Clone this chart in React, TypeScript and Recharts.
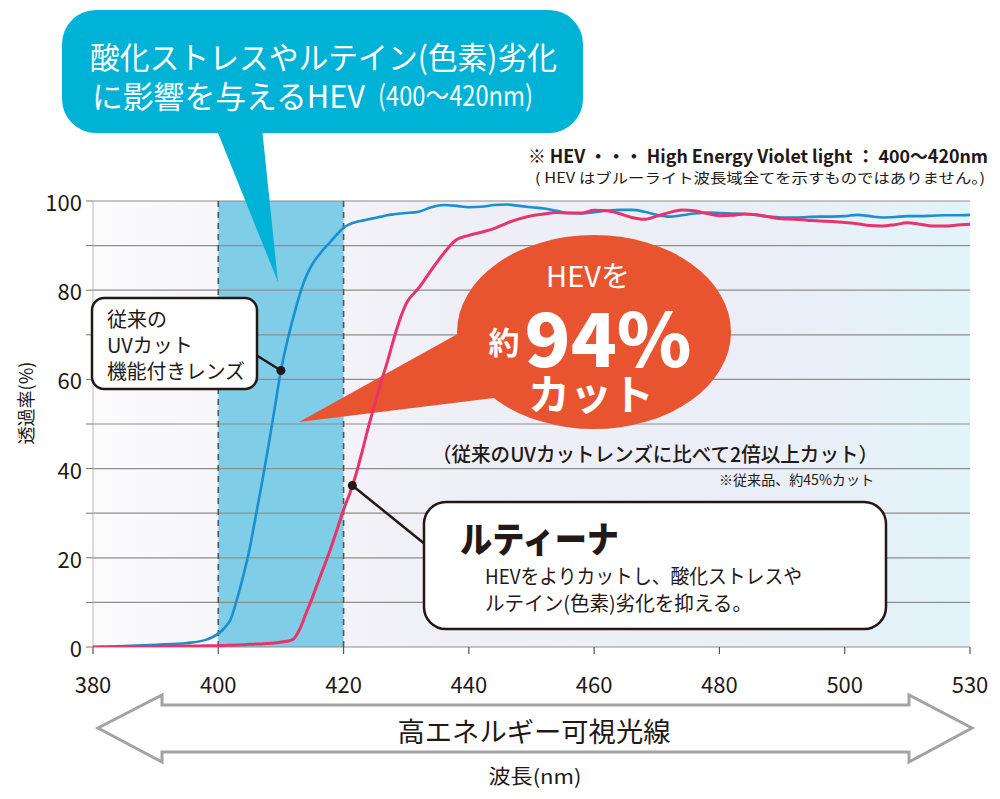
import React from "react";
import {
  ComposedChart,
  Line,
  XAxis,
  YAxis,
  CartesianGrid,
  ReferenceArea,
  ReferenceLine,
  ReferenceDot,
} from "recharts";

// wavelength (nm) and transmittance (%)
const wavelengths = [
  380, 385, 390, 395, 398,
  400, 401, 402, 403, 404, 405, 406, 407, 408, 409,
  410, 411, 412, 413, 414, 415, 416, 417, 418, 419,
  420, 421, 422, 423, 424, 425, 426, 427, 428, 429,
  430,
  432, 434, 436, 438, 440, 442, 444, 446, 448, 450,
  452, 454, 456, 458, 460, 462, 464, 466, 468, 470,
  472, 474, 476, 478, 480, 482, 484, 486, 488, 490,
  492, 494, 496, 498, 500, 502, 504, 506, 508, 510,
  512, 514, 516, 518, 520,
];

const conventional = [
  0, 0.2, 0.5, 0.9, 1.6,
  3, 4.3, 6.3, 10.8, 16, 22, 29.5, 37, 45, 53.5,
  62, 68.5, 74, 79, 83, 85.8, 87.8, 89.5, 91, 92.6,
  94, 94.8, 95.3, 95.6, 95.9, 96.2, 96.5, 96.8, 97, 97.2,
  97.3,
  97.6, 98.6, 99.1, 98.9, 98.6, 98.7, 99.1, 99.2, 98.9, 98.6,
  98.3, 97.8, 97.3, 97.2, 97.5, 97.8, 98, 98, 97.6, 96.9,
  96.5, 96.8, 97.2, 97.4, 97.3, 97.2, 97.1, 96.8, 96.5, 96.3,
  96.3, 96.4, 96.5, 96.5, 96.6, 96.9, 96.6, 96.3, 96.4, 96.6,
  96.6, 96.7, 96.8, 96.8, 96.9,
];

const rutina = [
  0, 0, 0.1, 0.2, 0.3,
  0.3, 0.35, 0.4, 0.45, 0.5, 0.6, 0.65, 0.7, 0.8, 0.9,
  1.1, 1.3, 1.8, 4, 7.5, 11, 14.8, 18.5, 22.3, 26.5,
  30.8, 34.5, 38.8, 44, 49.5, 54.5, 59.5, 64, 69, 73.5,
  77,
  80.5, 84.5, 88.3, 91.3, 92.3, 93, 93.8, 95, 96, 96.7,
  97.1, 97.4, 97.3, 97.3, 97.9, 97.8, 97.2, 96.3, 95.9, 96.6,
  97.4, 98, 97.8, 97.2, 96.7, 96.8, 97.1, 96.9, 96.4, 96,
  95.9, 95.7, 95.5, 95.4, 95.2, 94.9, 94.5, 94.4, 94.7, 95.1,
  94.8, 94.4, 94.4, 94.6, 94.8,
];

const xTicks = [380, 400, 420, 440, 460, 480, 500, 520];
const xTickLabels = ["380", "400", "420", "440", "460", "480", "500", "530"];
const yTicks = [0, 10, 20, 30, 40, 50, 60, 70, 80, 90, 100];
const hevBand = [400, 420];
const markerConventional = 410;
const markerRutina = 421.4;

const data = wavelengths.map((nm, i) => ({
  nm,
  conventional: conventional[i],
  rutina: rutina[i],
}));

function valueAt(series: number[], nm: number) {
  for (let i = 1; i < wavelengths.length; i++) {
    if (nm <= wavelengths[i]) {
      const t = (nm - wavelengths[i - 1]) / (wavelengths[i] - wavelengths[i - 1]);
      return series[i - 1] + t * (series[i] - series[i - 1]);
    }
  }
  return series[series.length - 1];
}

const W = 1000;
const H = 799;
const margin = { top: 201, right: 30, bottom: 102, left: 33 };
const PLOT = { l: 93, r: 970, t: 201, b: 647 };
const px = (nm: number) => PLOT.l + ((nm - 380) / 140) * (PLOT.r - PLOT.l);
const py = (v: number) => PLOT.b - (v / 100) * (PLOT.b - PLOT.t);

const FONT = '"Noto Sans CJK JP", "Noto Sans", sans-serif';
const INK = "#231815";

const XTick = (props: any) => {
  const i = xTicks.indexOf(props.payload.value);
  return (
    <text x={props.x} y={PLOT.b + 36} textAnchor="middle" dominantBaseline="central"
      fontSize={22} fill={INK} fontFamily={FONT}>
      {xTickLabels[i]}
    </text>
  );
};

const YTick = (props: any) => {
  if (props.payload.value % 20 !== 0) return <g />;
  return (
    <text x={PLOT.l - 11} y={props.y} textAnchor="end" dominantBaseline="central"
      fontSize={22} fill={INK} fontFamily={FONT}>
      {props.payload.value}
    </text>
  );
};

function axes(visible: boolean) {
  return [
    <XAxis key="x" dataKey="nm" type="number" domain={[380, 520]} ticks={xTicks}
      allowDataOverflow interval={0} height={50} axisLine={false} tickSize={7}
      tickLine={visible ? { stroke: "#555", strokeWidth: 1.2 } : false}
      tick={visible ? XTick : false} />,
    <YAxis key="y" type="number" domain={[0, 100]} ticks={yTicks} interval={0}
      allowDataOverflow width={60} tickSize={7}
      axisLine={visible ? { stroke: "#b8b8b8" } : false}
      tickLine={visible ? { stroke: "#777" } : false}
      tick={visible ? YTick : false} />,
  ];
}

const layer: React.CSSProperties = { position: "absolute", left: 0, top: 0 };

function Annotations() {
  const bx = px(markerConventional);
  const by = py(valueAt(conventional, markerConventional));
  const rx = px(markerRutina);
  const ry = py(valueAt(rutina, markerRutina));
  return (
    <svg width={W} height={H} style={layer} fontFamily={FONT}>
      {/* top cyan speech bubble */}
      <rect x={62} y={10} width={521} height={123} rx={34} fill="#00b2d6" />
      <polygon points="216,128 262,128 278,282" fill="#00b2d6" />
      <text x={90} y={55} dominantBaseline="central" fontSize={31} fill="#fff"
        textLength={467} lengthAdjust="spacingAndGlyphs">
        酸化ストレスやルテイン(色素)劣化
      </text>
      <text y={94} dominantBaseline="central" fill="#fff">
        <tspan x={92} fontSize={31} textLength={273} lengthAdjust="spacingAndGlyphs">に影響を与えるHEV</tspan>
        <tspan x={378} fontSize={28} textLength={155} lengthAdjust="spacingAndGlyphs">(400〜420nm)</tspan>
      </text>

      {/* note top right */}
      <text x={528} y={155} dominantBaseline="central" fontSize={18} fontWeight={700} fill={INK}
        textLength={460} lengthAdjust="spacingAndGlyphs">
        ※ HEV ・・・ High Energy Violet light ： 400〜420nm
      </text>
      <text x={535} y={177} dominantBaseline="central" fontSize={14} fill={INK}
        textLength={450} lengthAdjust="spacingAndGlyphs">
        ( HEV はブルーライト波長域全てを示すものではありません。)
      </text>

      {/* conventional lens label */}
      <line x1={256} y1={355} x2={bx} y2={by} stroke={INK} strokeWidth={2.5} />
      <rect x={92} y={298} width={165} height={91} rx={12} fill="#fff" stroke={INK} strokeWidth={2.5} />
      <text x={107} y={318} dominantBaseline="central" fontSize={20} fill={INK}>従来の</text>
      <text x={107} y={344} dominantBaseline="central" fontSize={20} fill={INK}>UVカット</text>
      <text x={107} y={370} dominantBaseline="central" fontSize={20} fill={INK}
        textLength={138} lengthAdjust="spacingAndGlyphs">機能付きレンズ</text>

      {/* orange bubble */}
      <polygon points="299,422 472,326 494,398" fill="#e85430" />
      <ellipse cx={594} cy={332} rx={137} ry={97} fill="#e85430" />
      <text x={588} y={274} textAnchor="middle" dominantBaseline="central" fontSize={29} fill="#fff">HEVを</text>
      <text x={504} y={340} textAnchor="middle" dominantBaseline="central" fontSize={31} fontWeight={700} fill="#fff">約</text>
      <text x={608} y={334} textAnchor="middle" dominantBaseline="central" fontSize={74} fontWeight={900} fill="#fff"
        textLength={167} lengthAdjust="spacingAndGlyphs">94%</text>
      <text x={591} y={391} textAnchor="middle" dominantBaseline="central" fontSize={42} fontWeight={700} fill="#fff">カット</text>

      <text x={432} y={453} dominantBaseline="central" fontSize={20} fontWeight={500} fill={INK}
        textLength={446} lengthAdjust="spacingAndGlyphs">
        （従来のUVカットレンズに比べて2倍以上カット）
      </text>
      <text x={719} y={479} dominantBaseline="central" fontSize={14} fill={INK}
        textLength={155} lengthAdjust="spacingAndGlyphs">
        ※従来品、約45%カット
      </text>

      {/* Rutina label */}
      <line x1={rx} y1={ry} x2={426} y2={545} stroke={INK} strokeWidth={2.5} />
      <rect x={424} y={502} width={462} height={127} rx={22} fill="#fff" stroke={INK} strokeWidth={2.5} />
      <text x={460} y={537} dominantBaseline="central" fontSize={36} fontWeight={900} fill={INK}
        textLength={159} lengthAdjust="spacingAndGlyphs">ルティーナ</text>
      <text x={485} y={575} dominantBaseline="central" fontSize={20} fill={INK}
        textLength={317} lengthAdjust="spacingAndGlyphs">HEVをよりカットし、酸化ストレスや</text>
      <text x={485} y={602} dominantBaseline="central" fontSize={20} fill={INK}
        textLength={267} lengthAdjust="spacingAndGlyphs">ルテイン(色素)劣化を抑える。</text>

      {/* y axis title */}
      <text transform="translate(25,403) rotate(-90)" textAnchor="middle" dominantBaseline="central"
        fontSize={18} fill={INK}>透過率(%)</text>

      {/* bottom double arrow */}
      <polygon
        points="98,728 162,695 162,705 909,705 909,695 972,728 909,762 909,752 162,752 162,762"
        fill="#fff" stroke="#a3a3a3" strokeWidth={3} />
      <text x={534} y={730} textAnchor="middle" dominantBaseline="central" fontSize={27} fill={INK}
        textLength={273} lengthAdjust="spacingAndGlyphs">高エネルギー可視光線</text>
      <text x={535} y={775} textAnchor="middle" dominantBaseline="central" fontSize={20} fill={INK}
        textLength={93} lengthAdjust="spacingAndGlyphs">波長(nm)</text>
    </svg>
  );
}

export default function App() {
  return (
    <div style={{ position: "absolute", left: 0, top: 0, width: W, height: H, background: "#fff" }}>
      {/* background + HEV band */}
      <div style={layer}>
        <ComposedChart width={W} height={H} data={data} margin={margin}>
          <defs>
            <linearGradient id="plotBg" x1="0" y1="0" x2="1" y2="0">
              <stop offset="0%" stopColor="#fbfbfc" />
              <stop offset="40%" stopColor="#efeff6" />
              <stop offset="75%" stopColor="#ebeef7" />
              <stop offset="100%" stopColor="#e2f3fa" />
            </linearGradient>
          </defs>
          <CartesianGrid horizontal={false} vertical={false} fill="url(#plotBg)" stroke="none" />
          {axes(false)}
          <ReferenceArea x1={hevBand[0]} x2={hevBand[1]} y1={0} y2={100}
            fill="#7fcde6" fillOpacity={1} stroke="none" />
        </ComposedChart>
      </div>

      {/* grid, axes, dashed band edges */}
      <div style={layer}>
        <ComposedChart width={W} height={H} data={data} margin={margin}>
          <CartesianGrid vertical={false} stroke="#8e8e8e" strokeWidth={1.2} fill="none" />
          {axes(true)}
          <ReferenceLine x={hevBand[0]} stroke="#555" strokeWidth={1.6} strokeDasharray="6 5" />
          <ReferenceLine x={hevBand[1]} stroke="#555" strokeWidth={1.6} strokeDasharray="6 5" />
        </ComposedChart>
      </div>

      <Annotations />

      {/* curves */}
      <div style={layer}>
        <ComposedChart width={W} height={H} data={data} margin={margin}>
          {axes(false)}
          <Line type="monotone" dataKey="conventional" stroke="#1b8fd1" strokeWidth={2.6}
            dot={false} isAnimationActive={false} />
          <Line type="monotone" dataKey="rutina" stroke="#e8336b" strokeWidth={3}
            dot={false} isAnimationActive={false} />
          <ReferenceDot x={markerConventional} y={valueAt(conventional, markerConventional)}
            r={4.5} fill={INK} stroke="none" />
          <ReferenceDot x={markerRutina} y={valueAt(rutina, markerRutina)}
            r={4.5} fill={INK} stroke="none" />
        </ComposedChart>
      </div>
    </div>
  );
}
